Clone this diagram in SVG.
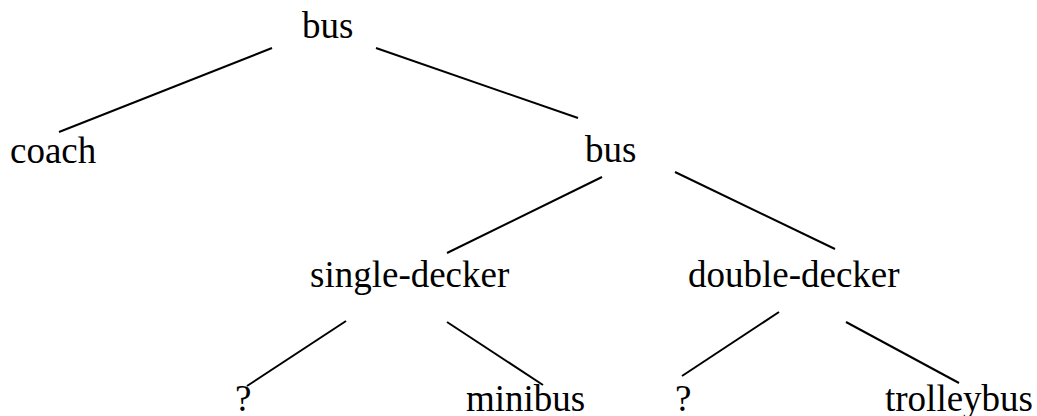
<svg xmlns="http://www.w3.org/2000/svg" width="1037" height="416" viewBox="0 0 1037 416">
  <style>
    text { font-family: "Liberation Serif", "Times New Roman", serif; font-size: 37px; fill: #000; }
    line { stroke: #000; stroke-width: 2; }
  </style>
  <rect width="1037" height="416" fill="#fff"/>
  <g id="connectors">
    <line x1="272" y1="48" x2="59" y2="132"/>
    <line x1="376" y1="48" x2="578" y2="118"/>
    <line x1="602" y1="177" x2="447" y2="253"/>
    <line x1="675" y1="172" x2="835" y2="249"/>
    <line x1="346" y1="321" x2="247" y2="386"/>
    <line x1="447" y1="322" x2="543" y2="385"/>
    <line x1="779" y1="312" x2="682" y2="376"/>
    <line x1="846" y1="322" x2="959" y2="383"/>
  </g>
  <g id="n-bus-root"><text x="302" y="38">bus</text></g>
  <g id="n-coach"><text x="10" y="163">coach</text></g>
  <g id="n-bus"><text x="585" y="162">bus</text></g>
  <g id="n-single-decker"><text x="310" y="287">single-decker</text></g>
  <g id="n-double-decker"><text x="688" y="287">double-decker</text></g>
  <g id="n-q1"><text x="235" y="411">?</text></g>
  <g id="n-minibus"><text x="466" y="411">minibus</text></g>
  <g id="n-q2"><text x="675" y="411">?</text></g>
  <g id="n-trolleybus"><text x="885" y="411">trolleybus</text></g>
</svg>
